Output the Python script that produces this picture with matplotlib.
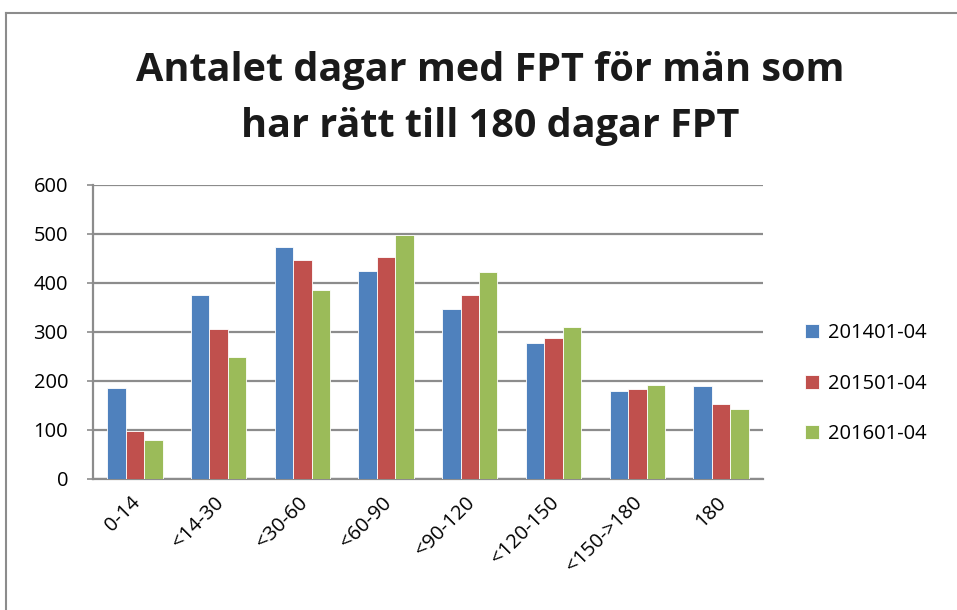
import matplotlib
matplotlib.use("Agg")
import matplotlib.pyplot as plt
import matplotlib.transforms as mtransforms
import numpy as np
from matplotlib.lines import Line2D

categories = ["0-14", "<14-30", "<30-60", "<60-90", "<90-120", "<120-150", "<150->180", "180"]
series_names = ["201401-04", "201501-04", "201601-04"]
s2014 = [185, 376, 474, 424, 347, 277, 180, 189]
s2015 = [97, 306, 447, 453, 375, 288, 184, 154]
s2016 = [79, 249, 386, 498, 422, 311, 192, 142]
yticks = [0, 100, 200, 300, 400, 500, 600]
colors = ["#4F81BD", "#C0504D", "#9BBB59"]

plt.rcParams['font.family'] = ['Open Sans', 'DejaVu Sans']

fig = plt.figure(figsize=(9.57, 6.10), dpi=100)
ax = fig.add_axes([0.0972, 0.2148, 0.7, 0.482])

x = np.arange(len(categories))
w = 0.22
for i, (vals, c, n) in enumerate(zip([s2014, s2015, s2016], colors, series_names)):
    ax.bar(x + (i - 1) * w, vals, width=w, color=c, edgecolor="white", linewidth=0.6, label=n, zorder=3)

ax.set_xlim(-0.5, len(categories) - 0.5)
ax.set_ylim(0, 600)
ax.set_yticks(yticks)
ax.set_yticklabels([str(v) for v in yticks], fontsize=14.5)
ax.yaxis.grid(True, color="#8C8C8C", linewidth=1.6, zorder=0)
ax.set_axisbelow(True)
for s in ["top", "right"]:
    ax.spines[s].set_visible(False)
ax.spines["left"].set_color("#8C8C8C")
ax.spines["left"].set_linewidth(1.6)
ax.spines["bottom"].set_color("#8C8C8C")
ax.spines["bottom"].set_linewidth(1.6)
ax.tick_params(axis="y", length=4, color="#8C8C8C", width=1.2, pad=14)
ax.tick_params(axis="x", length=0, pad=10)
ax.set_xticks(x)
ax.set_xticklabels(categories, rotation=45, ha="right", rotation_mode="anchor", fontsize=14.5)
offset = mtransforms.ScaledTranslation(-5 / 100, 0, fig.dpi_scale_trans)
for lbl in ax.get_xticklabels():
    lbl.set_transform(lbl.get_transform() + offset)

fig.text(0.512, 0.885, "Antalet dagar med FPT för män som", ha="center", va="center",
         fontsize=28.5, fontweight="bold", color="#1a1a1a")
fig.text(0.512, 0.792, "har rätt till 180 dagar FPT", ha="center", va="center",
         fontsize=28.5, fontweight="bold", color="#1a1a1a")

leg = fig.legend(loc="center left", bbox_to_anchor=(0.822, 0.371), frameon=False,
                 fontsize=14.5, handlelength=0.7, handleheight=0.7, labelspacing=1.5, handletextpad=0.45)

# outer chart border
fig.add_artist(Line2D([0.006, 0.006], [0, 0.979], color="#8C8C8C", linewidth=1.5, transform=fig.transFigure))
fig.add_artist(Line2D([0.006, 1.0], [0.979, 0.979], color="#8C8C8C", linewidth=1.5, transform=fig.transFigure))

fig.savefig("out.png", dpi=100)
